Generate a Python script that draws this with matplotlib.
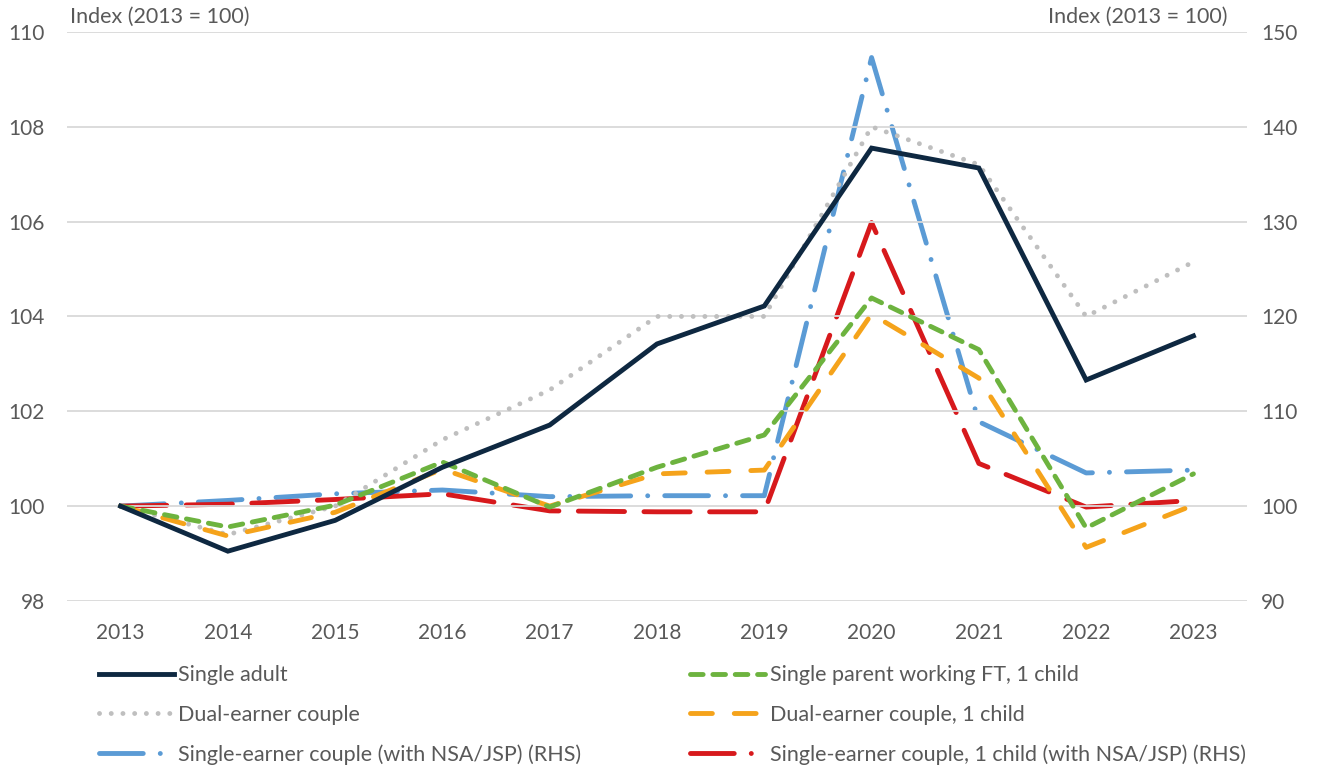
import matplotlib.pyplot as plt
from matplotlib.lines import Line2D

plt.rcParams['font.family'] = ['Lato', 'DejaVu Sans']

years = [2013, 2014, 2015, 2016, 2017, 2018, 2019, 2020, 2021, 2022, 2023]

# left axis series
single_adult = [100, 99.05, 99.7, 100.82, 101.71, 103.42, 104.22, 107.55, 107.13, 102.66, 103.59]
dual_earner = [100, 99.4, 100.0, 101.4, 102.45, 104.0, 104.0, 108.0, 107.2, 104.0, 105.15]
single_parent = [100, 99.56, 100.02, 100.93, 99.98, 100.82, 101.5, 104.39, 103.3, 99.54, 100.68]
dual_earner_child = [100, 99.37, 99.87, 100.78, 100.0, 100.68, 100.76, 104.05, 102.7, 99.13, 100.02]

# right axis series
single_earner = [100, 100.6, 101.3, 101.7, 101.0, 101.1, 101.1, 147.3, 108.9, 103.5, 103.8]
single_earner_child = [100, 100.2, 100.7, 101.3, 99.5, 99.4, 99.4, 129.9, 104.5, 99.9, 100.6]

navy = '#0E2841'
grey = '#BFBFBF'
green = '#6DB33F'
orange = '#F5A31B'
blue = '#5B9BD5'
red = '#D7191C'
txt = '#595959'

ls_grey = (0, (0.01, 2.4))
ls_orange = (0, (4.5, 4.5))
ls_green = (0, (2.6, 2.0))
ls_blue = (0, (9, 3.5, 0.01, 3.5))
ls_red = (0, (9.5, 4))
ls_red_leg = (0, (9, 3.5, 0.01, 3.5))

fig = plt.figure(figsize=(13.23, 7.69), dpi=100)
ax = fig.add_axes([0.0506, 0.2185, 0.892, 0.74])
ax2 = ax.twinx()

x = list(range(len(years)))
lw = 3.5

ax.plot(x, dual_earner, color=grey, lw=lw, linestyle=ls_grey, dash_capstyle='round', zorder=2)
ax.plot(x, dual_earner_child, color=orange, lw=lw, linestyle=ls_orange, dash_capstyle='round', zorder=3)
ax.plot(x, single_parent, color=green, lw=lw, linestyle=ls_green, dash_capstyle='round', zorder=4)
ax.plot(x, single_adult, color=navy, lw=lw, solid_joinstyle='miter', zorder=5)

ax2.plot(x, single_earner, color=blue, lw=lw, linestyle=ls_blue, dash_capstyle='round', zorder=3)
ax2.plot(x, single_earner_child, color=red, lw=lw, linestyle=ls_red, dash_capstyle='round', zorder=4)

ax.set_zorder(ax2.get_zorder() + 1)
ax.patch.set_visible(False)

ax.set_xlim(-0.5, len(years) - 0.5)
ax.set_ylim(98, 110)
ax.set_yticks([98, 100, 102, 104, 106, 108, 110])
ax2.set_ylim(90, 150)
ax2.set_yticks([90, 100, 110, 120, 130, 140, 150])
ax.set_xticks(x)
ax.set_xticklabels([str(y) for y in years])

ax.grid(axis='y', color='#D9D9D9', lw=1.3)
ax.set_axisbelow(True)
for a in (ax, ax2):
    for s in a.spines.values():
        s.set_visible(False)
    a.tick_params(length=0, labelsize=15, colors=txt)
ax.tick_params(axis='x', pad=16)
ax.tick_params(axis='y', pad=16)
ax2.tick_params(axis='y', pad=10)

fig.text(0.053, 0.978, 'Index (2013 = 100)', fontsize=15.5, color=txt, va='center', ha='left')
fig.text(0.928, 0.978, 'Index (2013 = 100)', fontsize=15.5, color=txt, va='center', ha='right')

# legend fills column by column: left column first, then right
handles = [
    Line2D([], [], color=navy, lw=lw),
    Line2D([], [], color=grey, lw=lw, linestyle=ls_grey, dash_capstyle='round'),
    Line2D([], [], color=blue, lw=lw, linestyle=ls_blue, dash_capstyle='round'),
    Line2D([], [], color=green, lw=lw, linestyle=ls_green, dash_capstyle='round'),
    Line2D([], [], color=orange, lw=lw, linestyle=ls_orange, dash_capstyle='round'),
    Line2D([], [], color=red, lw=lw, linestyle=ls_red_leg, dash_capstyle='round'),
]
labels = [
    'Single adult',
    'Dual-earner couple',
    'Single-earner couple (with NSA/JSP) (RHS)',
    'Single parent working FT, 1 child',
    'Dual-earner couple, 1 child',
    'Single-earner couple, 1 child (with NSA/JSP) (RHS)',
]
leg = fig.legend(handles, labels, ncol=2, loc='upper left', bbox_to_anchor=(0.068, 0.146),
                 frameon=False, fontsize=15.5, labelcolor=txt, handlelength=3.5,
                 handletextpad=0.2, columnspacing=5.05, labelspacing=0.9,
                 borderaxespad=0)

fig.savefig('out.png', dpi=100)
